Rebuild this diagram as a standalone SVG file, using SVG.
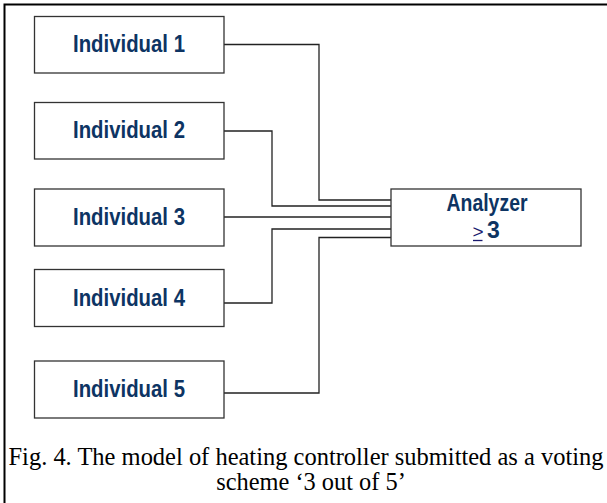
<svg xmlns="http://www.w3.org/2000/svg" width="607" height="503" viewBox="0 0 607 503">
<style>
.box{fill:#fff;stroke:#333;stroke-width:1.3}
.lbl{font-family:"Liberation Sans",Arial,sans-serif;font-weight:bold;font-size:23px;fill:#0d3463;text-anchor:middle}
.wire{fill:none;stroke:#222;stroke-width:1.3}
.cap{font-family:"Liberation Serif","Times New Roman",serif;font-size:24.4px;fill:#000;text-anchor:middle}
</style>
<rect x="0" y="0" width="607" height="503" fill="#fff"/>
<rect x="4.5" y="4.5" width="620" height="520" fill="none" stroke="#000" stroke-width="2"/>
<g id="connectors">
<polyline class="wire" points="224,44.5 319,44.5 319,200 391,200"/>
<polyline class="wire" points="224,131 272,131 272,206 391,206"/>
<polyline class="wire" points="224,217 391,217"/>
<polyline class="wire" points="224,303 272,303 272,229 391,229"/>
<polyline class="wire" points="224,393 319,393 319,237.5 391,237.5"/>
</g>
<g id="individual1"><rect class="box" x="34.5" y="16.5" width="189.5" height="56.5"/><text class="lbl" x="129" y="52" textLength="112" lengthAdjust="spacingAndGlyphs">Individual 1</text></g>
<g id="individual2"><rect class="box" x="34.5" y="102.5" width="189.5" height="56.5"/><text class="lbl" x="129" y="138" textLength="112" lengthAdjust="spacingAndGlyphs">Individual 2</text></g>
<g id="individual3"><rect class="box" x="34.5" y="189" width="189.5" height="57"/><text class="lbl" x="129" y="225" textLength="112" lengthAdjust="spacingAndGlyphs">Individual 3</text></g>
<g id="individual4"><rect class="box" x="34.5" y="269.5" width="189.5" height="57"/><text class="lbl" x="129" y="306" textLength="112" lengthAdjust="spacingAndGlyphs">Individual 4</text></g>
<g id="individual5"><rect class="box" x="34.5" y="361" width="189.5" height="57"/><text class="lbl" x="129" y="397" textLength="112" lengthAdjust="spacingAndGlyphs">Individual 5</text></g>
<g id="analyzer"><rect class="box" x="391" y="189" width="190" height="57"/>
<text class="lbl" x="487" y="211" textLength="81" lengthAdjust="spacingAndGlyphs">Analyzer</text>
<text x="472.5" y="238" font-family="Liberation Sans,Arial,sans-serif" font-size="19" fill="#1a1a6e">&gt;</text>
<line x1="473" y1="240.5" x2="482.5" y2="240.5" stroke="#1a1a6e" stroke-width="1.3"/>
<text class="lbl" x="493.5" y="238">3</text>
</g>
<g id="caption">
<text class="cap" x="306" y="465" textLength="595" lengthAdjust="spacingAndGlyphs">Fig. 4. The model of heating controller submitted as a voting</text>
<text class="cap" x="311" y="490">scheme ‘3 out of 5’</text>
</g>
</svg>
